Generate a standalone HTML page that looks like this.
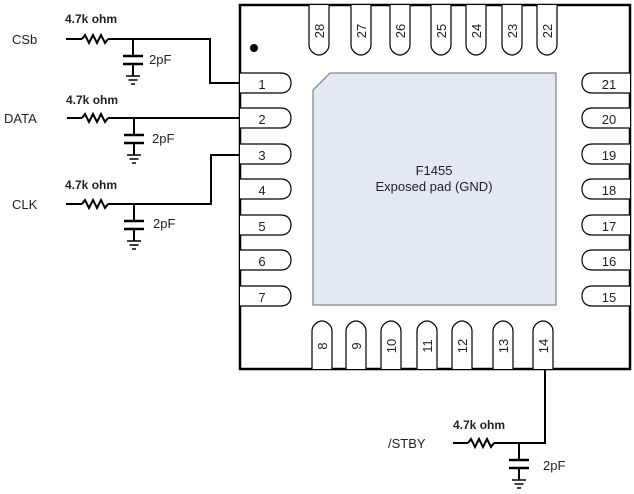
<!DOCTYPE html>
<html><head><meta charset="utf-8"><style>
html,body{margin:0;padding:0;background:#fff;width:634px;height:494px;overflow:hidden}
svg{display:block}
text{font-family:"Liberation Sans",Arial,sans-serif;fill:#222}
</style></head><body>
<svg width="634" height="494" viewBox="0 0 634 494" xmlns="http://www.w3.org/2000/svg">
<defs>
<path id="res" d="M0,0 l3,-4 l4,8 l4,-8 l4,8 l4,-8 l4,8 l3,-4" fill="none" stroke="#000" stroke-width="2"/>
<g id="cap" stroke="#000" fill="none">
<path d="M0,0 V17 M0,25 V37" stroke-width="2"/>
<path d="M-10,17 H10 M-10,25 H10" stroke-width="2.5"/>
<path d="M-7,37 H7 M-4.5,41 H4.5 M-2,45 H2" stroke-width="1.6"/>
</g>
<path id="lp" d="M240,0 H281 C289,0 291,6 291,10 C291,14 289,20 281,20 H240" fill="#fff" stroke="#000" stroke-width="1.2"/>
<path id="rp" d="M630,0 H592 C584,0 582,6 582,10 C582,14 584,20 592,20 H630" fill="#fff" stroke="#000" stroke-width="1.2"/>
<path id="tp" d="M0,5 V45 C0,51 6,55 10,55 C14,55 20,51 20,45 V5" fill="#fff" stroke="#000" stroke-width="1.2"/>
<path id="bp" d="M0,369 V331 C0,325 6,321 10,321 C14,321 20,325 20,331 V369" fill="#fff" stroke="#000" stroke-width="1.2"/>
</defs>

<!-- chip body -->
<rect x="240" y="5" width="390" height="364" fill="#fff" stroke="#000" stroke-width="2.5"/>
<circle cx="254" cy="48" r="4" fill="#000"/>
<!-- exposed pad -->
<path d="M330,73 H556 V305 H313 V90 Z" fill="#e2e9f4" stroke="#888" stroke-width="1.3"/>
<text x="434" y="175" font-size="13" text-anchor="middle">F1455</text>
<text x="434" y="191" font-size="13" text-anchor="middle">Exposed pad (GND)</text>

<!-- left pins -->
<g font-size="13" text-anchor="middle">
<use href="#lp" y="73"/><text x="262" y="89">1</text>
<use href="#lp" y="108"/><text x="262" y="124">2</text>
<use href="#lp" y="144"/><text x="262" y="160">3</text>
<use href="#lp" y="179"/><text x="262" y="195">4</text>
<use href="#lp" y="215"/><text x="262" y="231">5</text>
<use href="#lp" y="250"/><text x="262" y="266">6</text>
<use href="#lp" y="286"/><text x="262" y="302">7</text>
<!-- right pins -->
<use href="#rp" y="73"/><text x="609" y="89">21</text>
<use href="#rp" y="108"/><text x="609" y="124">20</text>
<use href="#rp" y="144"/><text x="609" y="160">19</text>
<use href="#rp" y="179"/><text x="609" y="195">18</text>
<use href="#rp" y="215"/><text x="609" y="231">17</text>
<use href="#rp" y="250"/><text x="609" y="266">16</text>
<use href="#rp" y="286"/><text x="609" y="302">15</text>
</g>
<!-- top pins -->
<g font-size="13" text-anchor="middle">
<use href="#tp" x="309"/><text transform="translate(324,31) rotate(-90)">28</text>
<use href="#tp" x="351"/><text transform="translate(366,31) rotate(-90)">27</text>
<use href="#tp" x="390"/><text transform="translate(405,31) rotate(-90)">26</text>
<use href="#tp" x="431"/><text transform="translate(446,31) rotate(-90)">25</text>
<use href="#tp" x="466"/><text transform="translate(481,31) rotate(-90)">24</text>
<use href="#tp" x="502"/><text transform="translate(517,31) rotate(-90)">23</text>
<use href="#tp" x="537"/><text transform="translate(552,31) rotate(-90)">22</text>
<!-- bottom pins -->
<use href="#bp" x="312"/><text transform="translate(327,346) rotate(-90)">8</text>
<use href="#bp" x="346"/><text transform="translate(361,346) rotate(-90)">9</text>
<use href="#bp" x="381"/><text transform="translate(396,346) rotate(-90)">10</text>
<use href="#bp" x="417"/><text transform="translate(432,346) rotate(-90)">11</text>
<use href="#bp" x="452"/><text transform="translate(467,346) rotate(-90)">12</text>
<use href="#bp" x="493"/><text transform="translate(508,346) rotate(-90)">13</text>
<use href="#bp" x="533"/><text transform="translate(548,346) rotate(-90)">14</text>
</g>

<!-- CSb -->
<g stroke="#000" stroke-width="2" fill="none">
<path d="M66,39 H82 M108,39 H210 V83 H240"/>
<path d="M67,118 H82 M108,118 H240"/>
<path d="M66,204 H82 M108,204 H211 V155 H240"/>
<path d="M453,443 H468 M494,443 H545 V369"/>
</g>
<use href="#res" x="82" y="39"/>
<use href="#res" x="82" y="118"/>
<use href="#res" x="82" y="204"/>
<use href="#res" x="468" y="443"/>
<use href="#cap" x="133" y="39"/>
<use href="#cap" x="134" y="118"/>
<use href="#cap" x="134" y="204"/>
<use href="#cap" x="519" y="443"/>

<g font-size="13">
<text x="12" y="44">CSb</text>
<text x="4" y="123">DATA</text>
<text x="12" y="209">CLK</text>
<text x="388" y="448">/STBY</text>
<text x="149" y="64">2pF</text>
<text x="152" y="143">2pF</text>
<text x="153" y="228">2pF</text>
<text x="543" y="470">2pF</text>
</g>
<g font-size="12" font-weight="bold">
<text x="65" y="23">4.7k ohm</text>
<text x="66" y="104">4.7k ohm</text>
<text x="65" y="189">4.7k ohm</text>
<text x="453" y="429">4.7k ohm</text>
</g>
</svg>
</body></html>
